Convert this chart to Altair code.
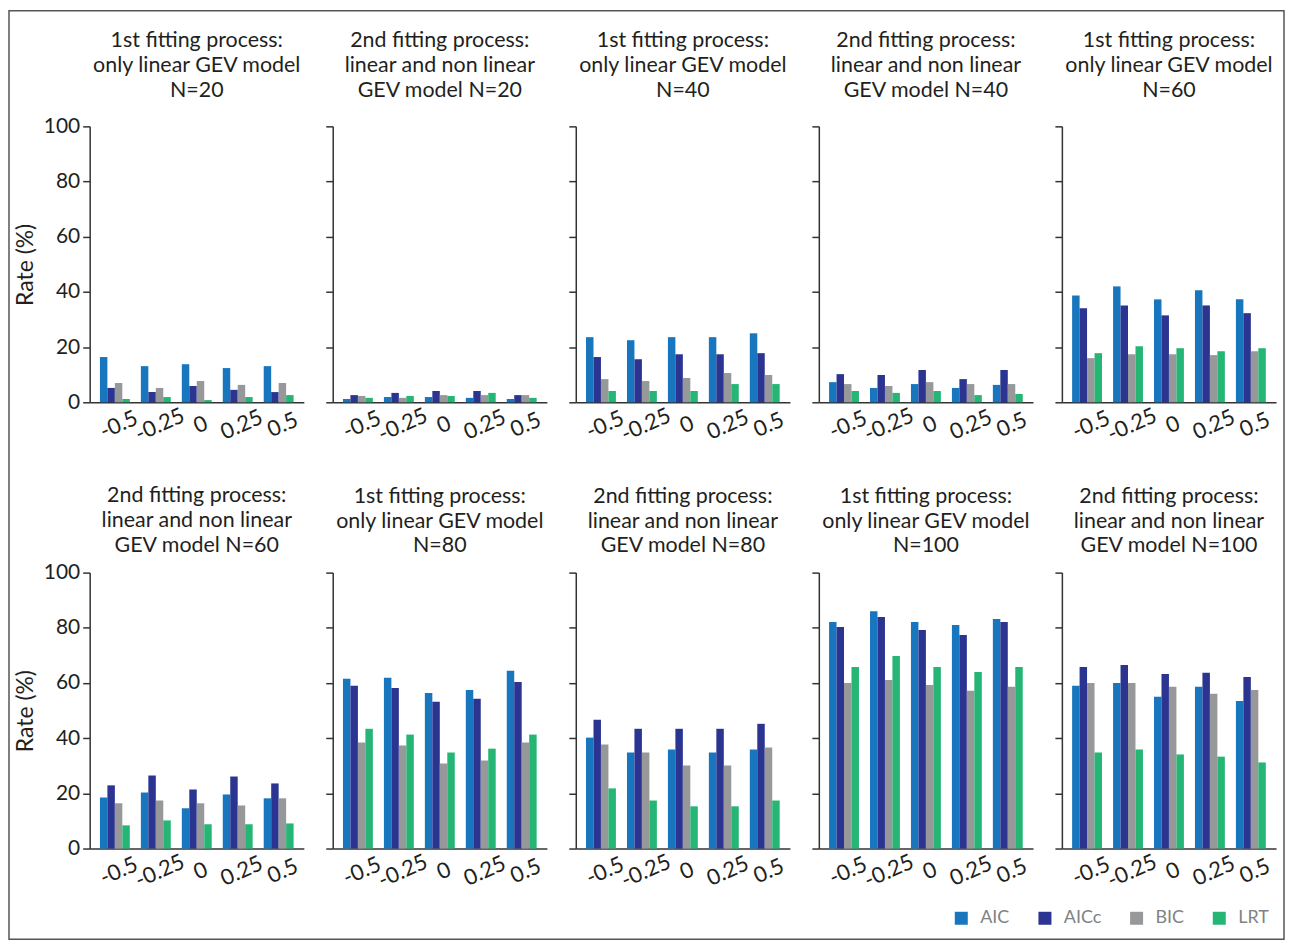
import altair as alt
import pandas as pd

shapes = ["-0.5", "-0.25", "0", "0.25", "0.5"]
methods = ["AIC", "AICc", "BIC", "LRT"]
colors = ["#1776BE", "#2B3591", "#97989A", "#25B574"]

titles = [
    ["1st fitting process:", "only linear GEV model", "N=20"],
    ["2nd fitting process:", "linear and non linear", "GEV model N=20"],
    ["1st fitting process:", "only linear GEV model", "N=40"],
    ["2nd fitting process:", "linear and non linear", "GEV model N=40"],
    ["1st fitting process:", "only linear GEV model", "N=60"],
    ["2nd fitting process:", "linear and non linear", "GEV model N=60"],
    ["1st fitting process:", "only linear GEV model", "N=80"],
    ["2nd fitting process:", "linear and non linear", "GEV model N=80"],
    ["1st fitting process:", "only linear GEV model", "N=100"],
    ["2nd fitting process:", "linear and non linear", "GEV model N=100"],
]

# values per panel: AIC, AICc, BIC, LRT across shapes -0.5 .. 0.5
n20_first = {"AIC": [16.4, 13.1, 13.8, 12.4, 13.1], "AICc": [5.2, 3.7, 5.9, 4.5, 3.7],
             "BIC": [7.0, 5.2, 7.7, 6.3, 7.0], "LRT": [1.2, 1.9, 0.8, 1.9, 2.6]}
n20_second = {"AIC": [1.2, 1.9, 1.9, 1.6, 1.2], "AICc": [2.6, 3.4, 4.1, 4.1, 2.6],
              "BIC": [2.3, 1.6, 2.6, 2.6, 2.6], "LRT": [1.6, 2.3, 2.3, 3.4, 1.6]}
n40_first = {"AIC": [23.6, 22.5, 23.6, 23.6, 25.0], "AICc": [16.4, 15.6, 17.4, 17.4, 17.8],
             "BIC": [8.4, 7.7, 8.8, 10.6, 9.9], "LRT": [4.1, 4.1, 4.1, 6.6, 6.6]}
n40_second = {"AIC": [7.3, 5.2, 6.6, 5.2, 6.3], "AICc": [10.2, 9.9, 11.7, 8.4, 11.7],
              "BIC": [6.6, 5.9, 7.3, 6.6, 6.6], "LRT": [4.1, 3.4, 4.1, 2.6, 3.0]}
n60_first = {"AIC": [38.7, 42.0, 37.3, 40.6, 37.3], "AICc": [34.1, 35.1, 31.5, 35.1, 32.3],
             "BIC": [16.0, 17.4, 17.4, 17.1, 18.5], "LRT": [17.8, 20.3, 19.6, 18.5, 19.6]}
n60_second = {"AIC": [18.5, 20.3, 14.6, 19.6, 18.2], "AICc": [22.9, 26.5, 21.4, 26.1, 23.6],
              "BIC": [16.4, 17.4, 16.4, 15.6, 18.2], "LRT": [8.4, 10.2, 8.8, 8.8, 9.1]}
n80_first = {"AIC": [61.5, 61.9, 56.4, 57.5, 64.4], "AICc": [59.0, 58.2, 53.2, 54.3, 60.4],
             "BIC": [38.4, 37.3, 30.8, 31.9, 38.4], "LRT": [43.4, 41.3, 34.8, 36.2, 41.3]}
n80_second = {"AIC": [40.2, 34.8, 35.9, 34.8, 35.9], "AICc": [46.7, 43.4, 43.4, 43.4, 45.2],
              "BIC": [37.7, 34.8, 30.1, 30.1, 36.6], "LRT": [21.8, 17.4, 15.3, 15.3, 17.4]}
n100_first = {"AIC": [82.1, 86.0, 82.1, 81.0, 83.2], "AICc": [80.3, 83.9, 79.2, 77.4, 82.1],
              "BIC": [60.0, 61.1, 59.3, 57.2, 58.6], "LRT": [65.8, 69.8, 65.8, 64.0, 65.8]}
n100_second = {"AIC": [59.0, 60.0, 55.0, 58.6, 53.5], "AICc": [65.8, 66.5, 63.3, 63.7, 62.2],
               "BIC": [60.0, 60.0, 58.6, 56.1, 57.5], "LRT": [34.8, 35.9, 34.1, 33.3, 31.2]}

panels = [n20_first, n20_second, n40_first, n40_second, n60_first,
          n60_second, n80_first, n80_second, n100_first, n100_second]

FONT = "Lato"
DARK = "#231f20"
AXIS = "#333333"


def make_panel(idx, vals):
    rows = []
    for m in methods:
        for s, v in zip(shapes, vals[m]):
            rows.append({"shape": s, "method": m, "rate": v})
    df = pd.DataFrame(rows)
    first_col = idx % 5 == 0
    yaxis_kw = dict(values=[0, 20, 40, 60, 80, 100], labels=first_col, grid=False,
                    tickSize=7, labelPadding=3, labelFontSize=21, labelColor=DARK,
                    domainColor=AXIS, tickColor=AXIS, domainWidth=1.5, tickWidth=1.5,
                    labelFont=FONT)
    if first_col:
        yaxis_kw.update(title="Rate (%)", titleFontSize=23, titleFontWeight="normal",
                        titleColor=DARK, titlePadding=6, titleFont=FONT)
    else:
        yaxis_kw.update(title="")
    bars = alt.Chart(df).mark_bar().encode(
        x=alt.X("shape:N", sort=shapes,
                scale=alt.Scale(paddingInner=0.27, paddingOuter=0.25),
                axis=alt.Axis(title="", labelAngle=-24, labelFontSize=22, labelColor=DARK,
                              labelFont=FONT, ticks=False, domainColor=AXIS,
                              domainWidth=1.5, labelPadding=13, labelAlign="center",
                              labelBaseline="top")),
        xOffset=alt.XOffset("method:N", sort=methods,
                            scale=alt.Scale(paddingInner=0, paddingOuter=0)),
        y=alt.Y("rate:Q", scale=alt.Scale(domain=[0, 100], nice=False),
                axis=alt.Axis(**yaxis_kw)),
        color=alt.Color("method:N", sort=methods,
                        scale=alt.Scale(domain=methods, range=colors),
                        legend=alt.Legend(title="", orient="none", direction="horizontal",
                                          legendX=866, legendY=786, symbolType="square",
                                          symbolSize=170, symbolStrokeWidth=0,
                                          labelFontSize=18, labelColor="#808285",
                                          labelFont=FONT, columnPadding=26,
                                          labelOffset=10, padding=0)),
    )
    if idx == 0:
        title_offset = -92
    elif idx < 5:
        title_offset = 24
    elif idx == 5:
        title_offset = 5
    else:
        title_offset = 15
    if idx == 0:
        # outer frame of the whole figure, drawn with the first panel
        frame = alt.Chart(alt.Data(values=[{"f": 1}])).mark_rect(
            fill="transparent", stroke="#555555", strokeWidth=1.5
        ).encode(x=alt.value(-81), x2=alt.value(1199), y=alt.value(-116), y2=alt.value(816))
        chart = alt.layer(frame, bars)
    else:
        chart = bars
    return chart.properties(
        width=215, height=277,
        title=alt.TitleParams(text=titles[idx], fontSize=21.5, fontWeight="normal",
                              font=FONT, color=DARK, anchor="middle", offset=title_offset,
                              lineHeight=25, frame="group"),
    )


charts = [make_panel(i, p) for i, p in enumerate(panels)]

chart = alt.concat(*charts, columns=5, spacing={"row": 171, "column": 29},
                   bounds="flush").properties(
    padding={"left": 0, "top": 0, "right": 0, "bottom": 0}
).configure_view(stroke=None)

chart.save("out.html", embed_options={"renderer": "svg", "actions": False})
